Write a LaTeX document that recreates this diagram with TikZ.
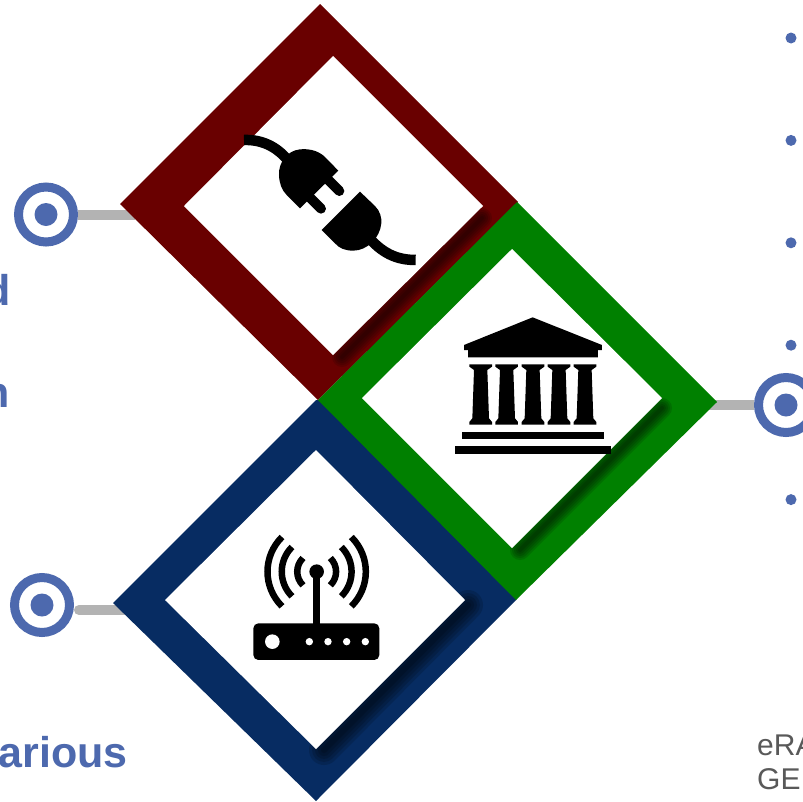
\documentclass[tikz,border=0pt]{standalone}
\usepackage{fontspec}
\setmainfont{Liberation Sans}
\usetikzlibrary{positioning}
\definecolor{ringblue}{HTML}{4D69AE}
\definecolor{linkgrey}{HTML}{B3B3B3}
\definecolor{notegrey}{HTML}{595959}
\definecolor{framered}{HTML}{690000}
\definecolor{framegreen}{HTML}{008000}
\definecolor{frameblue}{HTML}{072C62}

\begin{document}
\begin{tikzpicture}[x=1pt, y=-1pt]
\tikzstyle{ring}=[circle, minimum size=55pt, inner sep=0pt, line width=9pt, draw=ringblue, fill=white]
\tikzstyle{hub}=[circle, minimum size=23pt, inner sep=0pt, fill=ringblue]
\tikzstyle{bullet}=[circle, minimum size=11pt, inner sep=0pt, fill=ringblue, node distance=91pt]
\tikzstyle{link}=[line width=10pt, draw=linkgrey]
\tikzstyle{headtext}=[inner sep=0pt, text=ringblue, font=\fontsize{43}{43}\selectfont\bfseries]
\tikzstyle{notetext}=[inner sep=0pt, anchor=base west, text=notegrey, font=\fontsize{30}{30}\selectfont]
\tikzstyle{dusk}=[black, opacity=0.13, line cap=round]
\tikzstyle{icon}=[black, line width=10.5pt]
\useasboundingbox (0,0) rectangle (803,801);
\fill[white] (0,0) rectangle (803,801);

    % rings and their links
    \node[ring] (ringA) at (46,214.5) { };
    \node[hub] (hubA) at (ringA) { };
    \node[ring] (ringC) at (42,605) { };
    \node[hub] (hubC) at (ringC) { };
    \node[ring] (ringB) at (786,405) { };
    \node[hub] (hubB) at (ringB) { };
    \coordinate (tipA) at (135,214.5);
    \coordinate (tipB) at (700,405);
    \coordinate (tipC) at (130,610);
    \draw[link] (ringA) -- (tipA);
    \draw[link] (ringB) -- (tipB);
    \draw[link, line cap=round] ([xshift=5pt]ringC.east |- tipC) -- (tipC);

    % bullets
    \node[bullet] (bulletA) at (791,38) { };
    \node[bullet, below=of bulletA] (bulletB) { };
    \node[bullet, below=of bulletB] (bulletC) { };
    \node[bullet, below=of bulletC] (bulletD) { };
    \node[bullet, below=143pt of bulletD] (bulletE) { };

    % texts
    \node[headtext, anchor=base east] (textD) at (11,305) {d};
    \node[headtext, anchor=base east] (textN) at (10,407) {n};
    \node[headtext, anchor=base east] (textV) at (128,767) {arious};
    \node[notetext] (noteA) at (757,755) {eRA};
    \node[notetext] (noteB) at (757,789) {GE};

    % blue frame
    \fill[frameblue] (316,400) -- (325,400) -- (520,592) -- (516,600) -- (316,801) -- (113,603) -- cycle;
    \foreach \w in {6,12,18,24,30}
        \draw[dusk, line width=\w pt, opacity=0.15] (324,750) -- (468,605);
    \fill[white] (316,450) -- (465,600) -- (316,749) -- (165,600) -- cycle;

    % red frame
    \fill[framered] (320,4) -- (518,202) -- (318,400) -- (120,204) -- cycle;
    \foreach \w in {4,8,12,16,20}
        \draw[dusk, line width=\w pt] (342,357) -- (482,218);
    \fill[white] (333,56) -- (483,206) -- (333,355) -- (184,206) -- cycle;

    % green frame
    \fill[framegreen] (517,202) -- (717,402) -- (516,600) -- (318,400) -- cycle;
    \foreach \w in {4,8,12,16,20}
        \draw[dusk, line width=\w pt] (520,550) -- (662,408);
    \fill[white] (512,249) -- (662,398) -- (512,548) -- (362,398) -- cycle;

    % plug icon
    \begin{scope}[shift={(220,120)}, x=0.3333pt, y=-0.3333pt]
        \draw[icon] (72,60) .. controls (125,58) and (170,80) .. (203,120);
        \fill[black] (355,152) -- (312,108) .. controls (290,90) and (265,86) .. (240,88) .. controls (200,92) and (175,130) .. (177,165) .. controls (178,190) and (185,210) .. (200,225) -- (240,265) -- cycle;
        \draw[icon, line width=10pt, line cap=round] (318,173) -- (358,213);
        \draw[icon, line width=10pt, line cap=round] (265,228) -- (303,266);
        \fill[black] (420,215) -- (465,258) .. controls (480,272) and (486,295) .. (484,310) .. controls (480,355) and (440,392) .. (400,392) .. controls (375,392) and (358,385) .. (345,370) -- (305,330) -- cycle;
        \draw[icon] (440,345) .. controls (485,400) and (530,420) .. (587,420);
    \end{scope}

    % bank icon
    \begin{scope}[shift={(440,310)}, x=0.3333pt, y=-0.3333pt]
        \fill[black] (278,22) -- (486,105) -- (486,120) -- (474,120) -- (474,142) -- (84,142) -- (84,120) -- (72,120) -- (72,105) -- cycle;
        \foreach \c in {122,200,279,357,435}
            \fill[black] (\c-34,163) -- (\c+34,163) -- (\c+34,170) -- (\c+20,180) -- (\c+25,325) -- (\c+34,336) -- (\c+34,344) -- (\c-34,344) -- (\c-34,336) -- (\c-25,325) -- (\c-20,180) -- (\c-34,170) -- cycle;
        \fill[black] (67,365) rectangle (491,387);
        \fill[black] (45,408) rectangle (513,431);
    \end{scope}

    % router icon
    \begin{scope}[shift={(240,530)}, x=0.3333pt, y=-0.3333pt]
        \fill[black, rounded corners=5pt] (40,280) rectangle (418,390);
        \draw[black, line width=7pt] (230,125) -- (230,285);
        \fill[black] (230,125) circle (7.3pt);
        \fill[white] (97,335) circle (7.3pt);
        \foreach \c in {208,264,320,376}
            \fill[white] (\c,335) circle (3.7pt);
        \foreach \s in {-1,1}
            \foreach \a/\b/\c in {104/162/46,74/115/33,41/64/18}
                \draw[black, line width=6.5pt] ({230+\s*\a},{125-\a}) .. controls ({230+\s*\b},{125-\c}) and ({230+\s*\b},{125+\c}) .. ({230+\s*\a},{125+\a});
    \end{scope}
\end{tikzpicture}
\end{document}
